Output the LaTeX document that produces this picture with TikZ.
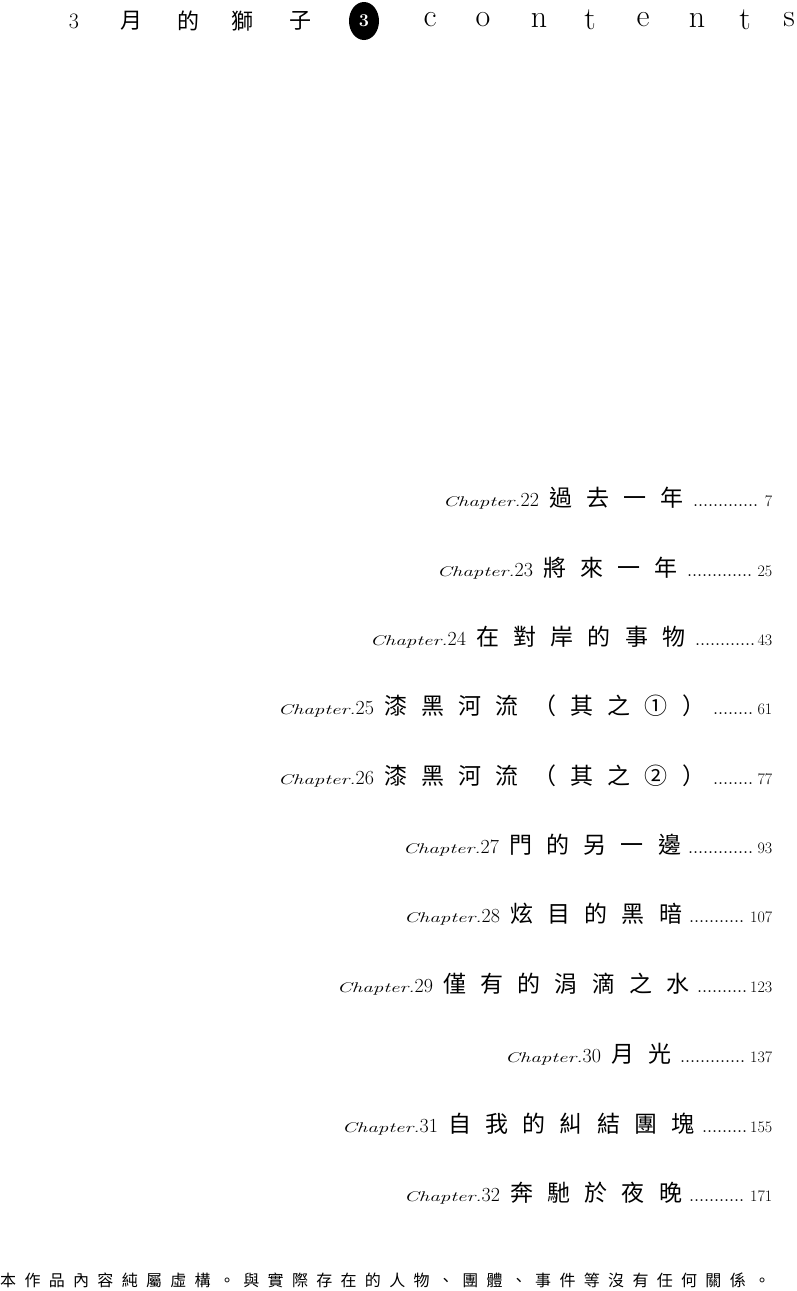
\documentclass[tikz,border=0pt]{standalone}
\usepackage{fontspec}
\usetikzlibrary{shapes.geometric}
\newfontfamily\cjk{Noto Sans CJK TC}
\newfontfamily\cjkls[LetterSpace=62]{Noto Sans CJK TC}
\newfontfamily\cjkft[LetterSpace=52]{Noto Sans CJK TC}
\newcommand{\chline}[5]{%
  \node[line, text width={772pt-#1pt}] (c#2) at (#1pt,-#4pt)
    {{\fontsize{14}{14}\selectfont\scalebox{1.5}[1]{\itshape Chapter.}}{\fontsize{20}{20}\selectfont #2}\hspace{10pt}{\fontsize{23}{23}\selectfont\cjkls #3}\hspace{6pt}{\fontsize{13}{13}\selectfont\bfseries\leaders\hbox to 5pt{\hss.\hss}\hfill}\,{\fontsize{16}{16}\selectfont #5}};}
\begin{document}
\begin{tikzpicture}[line/.style={anchor=west,inner sep=0pt,align=left}]
\useasboundingbox (0,0) rectangle (797pt,-1291pt);
\fill[white] (0,0) rectangle (797pt,-1291pt);
\tikzset{hd/.style={inner sep=0pt,font=\fontsize{22}{22}\selectfont}}
\node[hd] (h1) at (74pt,-21pt) {3};
\node[hd] (h2) at (131pt,-21pt) {\cjk 月};
\node[hd] (h3) at (188pt,-21pt) {\cjk 的};
\node[hd] (h4) at (242pt,-21pt) {\cjk 獅};
\node[hd] (h5) at (300pt,-21pt) {\cjk 子};
\node[ellipse,fill=black,minimum width=30pt,minimum height=38pt,inner sep=0pt,text=white,font=\fontsize{18}{18}\selectfont\bfseries] (e) at (364pt,-21pt) {3};
\foreach \c/\x [count=\i] in {c/430,o/483,n/539,t/590,e/643,n/697,t/745,s/789}
  \node[hd,font=\fontsize{32}{32}\selectfont] (l\i) at (\x pt,-20pt) {\c};
\chline{443}{22}{過去一年}{498}{7}
\chline{437}{23}{將來一年}{568}{25}
\chline{370}{24}{在對岸的事物}{637}{43}
\chline{278}{25}{漆黑河流（其之①）}{706}{61}
\chline{278}{26}{漆黑河流（其之②）}{776}{77}
\chline{403}{27}{門的另一邊}{845}{93}
\chline{404}{28}{炫目的黑暗}{914}{107}
\chline{337}{29}{僅有的涓滴之水}{984}{123}
\chline{505}{30}{月光}{1054}{137}
\chline{342}{31}{自我的糾結團塊}{1124}{155}
\chline{404}{32}{奔馳於夜晚}{1193}{171}
\node[anchor=west,inner sep=0pt,font=\fontsize{16}{16}\selectfont\cjkft] (foot) at (0pt,-1280pt) {本作品內容純屬虛構。與實際存在的人物、團體、事件等沒有任何關係。};
\end{tikzpicture}
\end{document}
